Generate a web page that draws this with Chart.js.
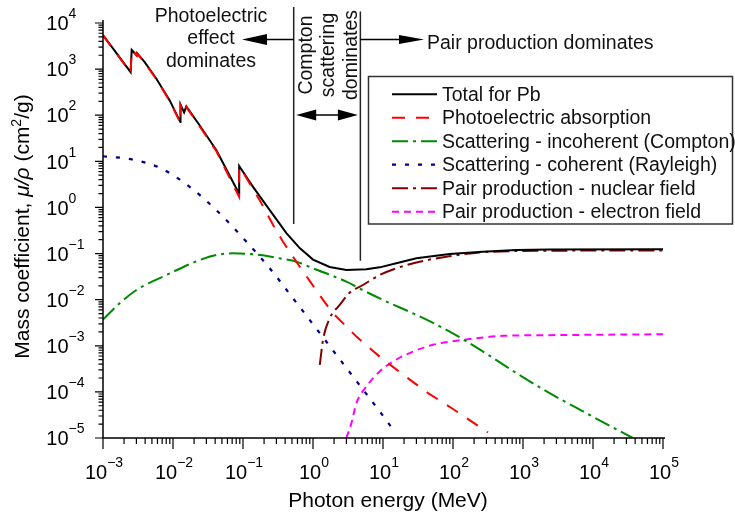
<!DOCTYPE html>
<html>
<head>
<meta charset="utf-8">
<title>Mass attenuation coefficients of lead</title>
<script src="https://cdn.jsdelivr.net/npm/chart.js@4.4.1/dist/chart.umd.min.js"></script>
<style>
  html, body { margin: 0; padding: 0; background: #fff; }
  #wrap { width: 735px; height: 513px; position: relative; }
</style>
</head>
<body>
<div id="wrap"><canvas id="c"></canvas></div>
<script>
// Photon energy (MeV) and mass coefficient (cm^2/g) for lead, per process.
const totalE  = [1e-3, 2.48e-3, 2.57e-3, 3.03e-3, 3.07e-3, 3.94e-3, 5.79e-3, 8.97e-3, 1.275e-2, 1.28e-2, 1.44e-2, 1.55e-2, 2.41e-2, 4.17e-2, 8.8e-2, 8.82e-2, 0.139, 0.241, 0.417, 0.646, 1.0, 1.73, 3.0, 5.79, 8.97, 15.5, 30, 89.7, 265, 805, 2400, 1e5];
const totalMu = [5500, 860, 2600, 2000, 2220, 1420, 620, 210, 71, 170, 115, 156, 60, 17.4, 1.98, 7.9, 2.79, 0.875, 0.278, 0.1315, 0.0741, 0.0511, 0.044, 0.0455, 0.0502, 0.0614, 0.0787, 0.0975, 0.109, 0.119, 0.123, 0.124];

const photoE  = [1e-3, 2.48e-3, 2.57e-3, 3.03e-3, 3.07e-3, 3.94e-3, 5.79e-3, 8.97e-3, 1.275e-2, 1.28e-2, 1.44e-2, 1.55e-2, 2.41e-2, 4.17e-2, 8.8e-2, 8.82e-2, 0.106, 0.173, 0.268, 0.373, 0.646, 1.39, 1.93, 4.17, 9.49, 20.4, 44, 100, 316];
const photoMu = [5400, 840, 2550, 1960, 2180, 1390, 600, 202, 68, 165, 111, 151, 57, 16.5, 1.7, 7.5, 5.0, 1.44, 0.42, 0.18, 0.0518, 0.00987, 0.00508, 0.00158, 5.4e-4, 2.23e-4, 9.4e-5, 4.25e-5, 1.32e-5];

const comptonE  = [1e-3, 1.73e-3, 3e-3, 8.05e-3, 0.0241, 0.0417, 0.072, 0.173, 0.334, 0.579, 1.0, 3.0, 5.1, 10, 30, 89.7, 268, 805, 2400, 7200, 3.7e4];
const comptonMu = [3.7e-3, 8.36e-3, 0.0162, 0.0343, 0.0723, 0.093, 0.101, 0.093, 0.0787, 0.0666, 0.0479, 0.0246, 0.0162, 9.86e-3, 4.67e-3, 2.03e-3, 7.5e-4, 2.55e-4, 9.4e-5, 3.77e-5, 1.0e-5];

const rayleighE  = [1e-3, 2.68e-3, 6.83e-3, 1.73e-2, 0.044, 0.112, 0.241, 0.518, 1.06, 2.16, 4.4, 8.97, 14];
const rayleighMu = [12.9, 10.9, 6.98, 2.79, 0.804, 0.18, 0.0479, 0.0107, 2.61e-3, 6.35e-4, 1.55e-4, 3.77e-5, 1.5e-5];

const pairNucE  = [1.25, 1.39, 1.73, 2.41, 3.34, 5.18, 8.97, 15.5, 33.4, 80.5, 240, 2400, 1e5];
const pairNucMu = [3.86e-4, 1.34e-3, 3.95e-3, 7.67e-3, 0.0142, 0.0208, 0.0343, 0.0479, 0.0666, 0.0853, 0.106, 0.115, 0.117];

const pairElE  = [3.0, 3.54, 4.17, 5.79, 8.97, 13.9, 26.8, 51.8, 139, 518, 2400, 1e5];
const pairElMu = [1.0e-5, 2.11e-5, 5.73e-5, 1.31e-4, 2.77e-4, 4.55e-4, 7.48e-4, 1.05e-3, 1.34e-3, 1.64e-3, 1.7e-3, 1.78e-3];

// Decade exponents for the tick labels
const xExponents = [-3, -2, -1, 0, 1, 2, 3, 4, 5];
const yExponents = [-5, -4, -3, -2, -1, 0, 1, 2, 3, 4];

// Energies (MeV) separating the regions where each process dominates
const photoComptonBoundary = 0.53;
const comptonPairBoundary = 4.75;

const legendLabels = [
  'Total for Pb',
  'Photoelectric absorption',
  'Scattering - incoherent (Compton)',
  'Scattering - coherent (Rayleigh)',
  'Pair production - nuclear field',
  'Pair production - electron field'
];

const FONT = '"Liberation Sans", Arial, Helvetica, sans-serif';

function pts(xs, ys) { return xs.map((v, i) => ({ x: v, y: ys[i] })); }

// Curves with absorption edges keep straight segments; smooth curves use monotone splines
const datasets = [
  { label: legendLabels[0], data: pts(totalE, totalMu), borderColor: '#000000', borderWidth: 2, tension: 0, order: 1 },
  { label: legendLabels[1], data: pts(photoE, photoMu), borderColor: '#ff0000', borderWidth: 2, borderDash: [13, 11], tension: 0, order: 0 },
  { label: legendLabels[2], data: pts(comptonE, comptonMu), borderColor: '#008a00', borderWidth: 2, borderDash: [16, 5, 3, 5], cubicInterpolationMode: 'monotone', order: 2 },
  { label: legendLabels[3], data: pts(rayleighE, rayleighMu), borderColor: '#00008b', borderWidth: 2.2, borderDash: [4, 9], cubicInterpolationMode: 'monotone', order: 3 },
  { label: legendLabels[4], data: pts(pairNucE, pairNucMu), borderColor: '#800000', borderWidth: 2, borderDash: [16, 5, 3, 5], cubicInterpolationMode: 'monotone', order: 2 },
  { label: legendLabels[5], data: pts(pairElE, pairElMu), borderColor: '#ff00ff', borderWidth: 2, borderDash: [7, 5], cubicInterpolationMode: 'monotone', order: 2 }
];

function drawRich(ctx, parts, x, y) {
  for (const p of parts) {
    ctx.font = p.font;
    ctx.fillText(p.t, x, y + (p.dy || 0));
    x += ctx.measureText(p.t).width;
  }
}
function richWidth(ctx, parts) {
  let w = 0;
  for (const p of parts) { ctx.font = p.font; w += ctx.measureText(p.t).width; }
  return w;
}
function expText(e) { return e < 0 ? '\u2212' + (-e) : String(e); }

function arrowHead(ctx, tipX, y, dir, len, half) {
  ctx.beginPath();
  ctx.moveTo(tipX, y);
  ctx.lineTo(tipX - dir * len, y - half);
  ctx.lineTo(tipX - dir * len, y + half);
  ctx.closePath();
  ctx.fill();
}

const decor = {
  id: 'decor',
  afterDatasetsDraw(chart) {
    const { ctx, chartArea: a, scales: { x, y } } = chart;
    ctx.save();
    ctx.fillStyle = '#000';
    ctx.strokeStyle = '#000';

    // Axis lines
    ctx.lineWidth = 1.5;
    ctx.beginPath();
    ctx.moveTo(a.left, a.top - 3);
    ctx.lineTo(a.left, a.bottom);
    ctx.lineTo(a.right + 2, a.bottom);
    ctx.stroke();

    // Ticks, outward
    ctx.lineWidth = 1.2;
    ctx.beginPath();
    xExponents.forEach((e, i) => {
      const px = x.getPixelForValue(Math.pow(10, e));
      ctx.moveTo(px, a.bottom); ctx.lineTo(px, a.bottom + 11);
      if (i < xExponents.length - 1) {
        for (let m = 2; m <= 9; m++) {
          const q = x.getPixelForValue(m * Math.pow(10, e));
          ctx.moveTo(q, a.bottom); ctx.lineTo(q, a.bottom + 6);
        }
      }
    });
    yExponents.forEach((e, i) => {
      const py = y.getPixelForValue(Math.pow(10, e));
      ctx.moveTo(a.left, py); ctx.lineTo(a.left - 8, py);
      if (i < yExponents.length - 1) {
        for (let m = 2; m <= 9; m++) {
          const q = y.getPixelForValue(m * Math.pow(10, e));
          ctx.moveTo(a.left, q); ctx.lineTo(a.left - 4.5, q);
        }
      }
    });
    ctx.stroke();

    // Tick labels: 10 with superscript exponent
    const baseFont = '20px ' + FONT, supFont = '14px ' + FONT;
    ctx.textBaseline = 'alphabetic';
    ctx.textAlign = 'left';
    xExponents.forEach(e => {
      const px = x.getPixelForValue(Math.pow(10, e));
      const parts = [{ t: '10', font: baseFont }, { t: expText(e), font: supFont, dy: -12 }];
      const w = richWidth(ctx, parts);
      drawRich(ctx, parts, px - w / 2 + 1, 478.5);
    });
    yExponents.forEach(e => {
      const py = y.getPixelForValue(Math.pow(10, e));
      ctx.font = baseFont;
      const w10 = ctx.measureText('10').width;
      drawRich(ctx, [{ t: '10', font: baseFont }, { t: expText(e), font: supFont, dy: -12 }], 68.5 - w10, py + 7.2);
    });

    // Axis titles
    const titleFont = '21px ' + FONT;
    ctx.font = titleFont;
    ctx.textAlign = 'center';
    ctx.fillText('Photon energy (MeV)', 388, 506.5);

    const yParts = [
      { t: 'Mass coefficient, ', font: titleFont },
      { t: '\u03bc/\u03c1', font: 'italic 21px ' + FONT },
      { t: ' (cm', font: titleFont },
      { t: '2', font: '14px ' + FONT, dy: -8 },
      { t: '/g)', font: titleFont }
    ];
    ctx.save();
    ctx.translate(29.3, 226.5);
    ctx.rotate(-Math.PI / 2);
    ctx.textAlign = 'left';
    drawRich(ctx, yParts, -richWidth(ctx, yParts) / 2, 0);
    ctx.restore();

    // Region boundaries
    const x1 = x.getPixelForValue(photoComptonBoundary);
    const x2 = x.getPixelForValue(comptonPairBoundary);
    ctx.strokeStyle = '#222';
    ctx.lineWidth = 1.5;
    ctx.beginPath();
    ctx.moveTo(x1, 7); ctx.lineTo(x1, y.getPixelForValue(0.435));
    ctx.moveTo(x2, 11.5); ctx.lineTo(x2, y.getPixelForValue(0.07));
    ctx.stroke();

    // Arrows
    ctx.strokeStyle = '#000';
    ctx.lineWidth = 1.3;
    ctx.beginPath();
    ctx.moveTo(x1, 39.5); ctx.lineTo(262, 39.5);
    ctx.moveTo(x2, 39.5); ctx.lineTo(402, 39.5);
    ctx.moveTo(x1 + 15, 115); ctx.lineTo(x2 - 15, 115);
    ctx.stroke();
    arrowHead(ctx, 242, 39.5, -1, 25, 5.5);
    arrowHead(ctx, 424, 39.5, 1, 25, 4.5);
    arrowHead(ctx, x1 + 2.5, 115, -1, 20, 5.5);
    arrowHead(ctx, x2 - 2.5, 115, 1, 20, 5.5);

    // Region captions
    const noteFont = '19.5px ' + FONT;
    ctx.font = noteFont;
    ctx.fillStyle = '#111';
    ctx.textAlign = 'center';
    ctx.fillText('Photoelectric', 211, 21.5);
    ctx.fillText('effect', 211, 44);
    ctx.fillText('dominates', 211, 66.5);
    ctx.textAlign = 'left';
    ctx.fillText('Pair production dominates', 427, 48.5);

    ctx.save();
    ctx.translate(0, 55);
    ctx.rotate(-Math.PI / 2);
    ctx.textAlign = 'center';
    ctx.fillText('Compton', 0, 311.5);
    ctx.fillText('scattering', 0, 334);
    ctx.fillText('dominates', 0, 356.5);
    ctx.restore();

    // Legend
    ctx.strokeStyle = '#333';
    ctx.lineWidth = 1.5;
    ctx.strokeRect(368.5, 76.5, 364, 147.5);
    chart.data.datasets.forEach((ds, i) => {
      const base = 100.7 + i * 23.5;
      const ly = base - 6.5;
      ctx.save();
      ctx.strokeStyle = ds.borderColor;
      ctx.lineWidth = ds.borderWidth;
      ctx.setLineDash(ds.borderDash || []);
      ctx.beginPath();
      ctx.moveTo(392, ly); ctx.lineTo(437, ly);
      ctx.stroke();
      ctx.restore();
      ctx.fillStyle = '#111';
      ctx.font = noteFont;
      ctx.textAlign = 'left';
      ctx.fillText(legendLabels[i], 442, base);
    });

    ctx.restore();
  }
};

new Chart(document.getElementById('c'), {
  type: 'line',
  data: { datasets },
  options: {
    responsive: true,
    maintainAspectRatio: false,
    animation: false,
    events: [],
    layout: { padding: { left: 103, right: 72, top: 23, bottom: 75 } },
    scales: {
      x: { type: 'logarithmic', min: 1e-3, max: 1e5, display: false },
      y: { type: 'logarithmic', min: 1e-5, max: 1e4, display: false }
    },
    elements: { point: { radius: 0 }, line: { fill: false } },
    plugins: { legend: { display: false }, tooltip: { enabled: false } }
  },
  plugins: [decor]
});
</script>
</body>
</html>
